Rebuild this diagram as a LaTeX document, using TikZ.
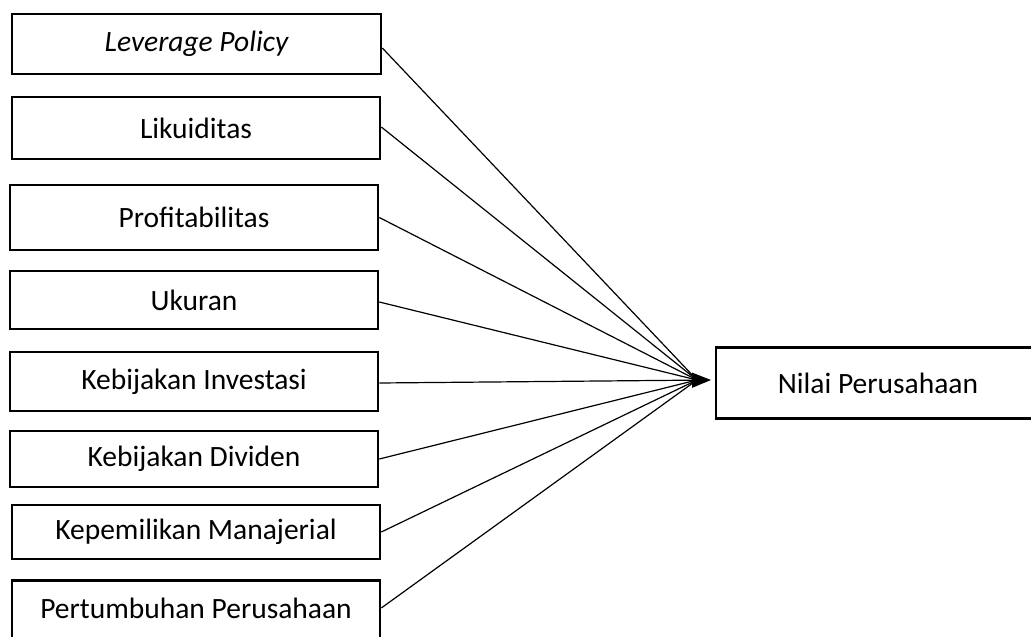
\documentclass[tikz,border=0pt]{standalone}
\usepackage{fontspec}
\setmainfont{Carlito}
\usetikzlibrary{arrows.meta}
\begin{document}
\begin{tikzpicture}[x=1bp,y=-1bp,
  box/.style={draw, line width=2.6bp, rectangle, inner sep=0pt, font=\fontsize{29.5bp}{34bp}\selectfont},
  link/.style={line width=1.2bp}]
\useasboundingbox (0,0) rectangle (1031,637);
\clip (0,0) rectangle (1031,637);
\node[box, minimum width=369bp, minimum height=60bp] (b1) at (196.5,44) {\itshape Leverage Policy};
\node[box, minimum width=368bp, minimum height=62bp] (b2) at (196,128) {Likuiditas};
\node[box, minimum width=368bp, minimum height=65bp] (b3) at (194,217.5) {Profitabilitas};
\node[box, minimum width=368bp, minimum height=58bp] (b4) at (194,300) {Ukuran};
\node[box, minimum width=368bp, minimum height=59bp] (b5) at (194,381.5) {Kebijakan Investasi};
\node[box, minimum width=368bp, minimum height=56bp] (b6) at (194,459) {Kebijakan Dividen};
\node[box, minimum width=368bp, minimum height=54bp] (b7) at (196,532) {Kepemilikan Manajerial};
\node[box, minimum width=368bp, minimum height=80bp, anchor=north] (b8) at (196,579) {};
\node[font=\fontsize{29.5bp}{34bp}\selectfont, inner sep=0pt] (b8t) at (196,608) {Pertumbuhan Perusahaan};
\node[box, minimum width=404bp, minimum height=71bp] (np) at (918,383) {\hspace*{-80bp}Nilai Perusahaan};
\coordinate (conv) at (697,380);
\coordinate (tip) at (711,380);
\draw[link] ([yshift=-4bp]b1.east) -- (conv);
\draw[link] ([yshift=1bp]b2.east) -- (conv);
\draw[link] (b3.east) -- (conv);
\draw[link] ([yshift=-2bp]b4.east) -- (conv);
\draw[link] (b6.east) -- (conv);
\draw[link] (b7.east) -- (conv);
\draw[link] (b8.east|-b8t) -- (conv);
\draw[link, -{Triangle[length=19bp,width=15bp]}] ([yshift=-1.5bp]b5.east) -- (tip);
\end{tikzpicture}
\end{document}
